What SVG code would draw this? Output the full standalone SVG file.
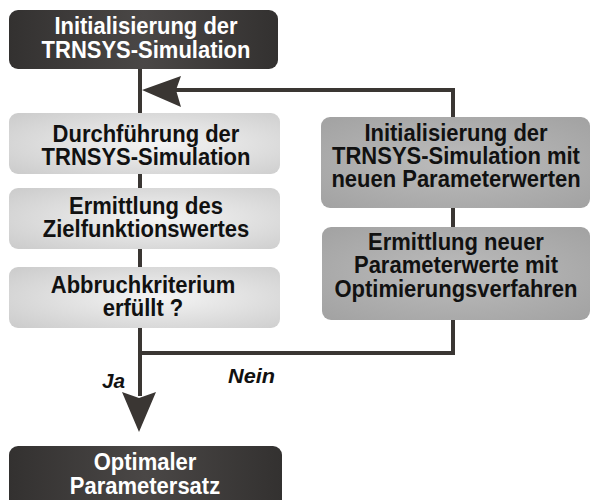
<svg xmlns="http://www.w3.org/2000/svg" width="590" height="500" viewBox="0 0 590 500">
<defs>
<linearGradient id="gDark" x1="0" y1="0" x2="1" y2="0">
<stop offset="0" stop-color="#333130"/><stop offset="0.5" stop-color="#4a4746"/><stop offset="1" stop-color="#333130"/>
</linearGradient>
<radialGradient id="gLight" cx="0.55" cy="0.5" r="0.7">
<stop offset="0" stop-color="#f4f4f4"/><stop offset="1" stop-color="#cdcdcd"/>
</radialGradient>
<radialGradient id="gMid" cx="0.5" cy="0.5" r="0.7">
<stop offset="0" stop-color="#bcbcbc"/><stop offset="1" stop-color="#a2a2a2"/>
</radialGradient>
<style>
.t{font-family:"Liberation Sans",Arial,sans-serif;font-weight:bold;font-size:22px;text-anchor:middle}
.w{fill:#ffffff}
.k{fill:#111111}
.lbl{font-family:"Liberation Sans",Arial,sans-serif;font-weight:bold;font-style:italic;font-size:20px;fill:#111111}
.ln{stroke:#3a3633;stroke-width:4;fill:none}
.ah{fill:#3a3633}
</style>
</defs>
<g id="connectors">
<path class="ln" d="M140,69 V113 M140,174 V188 M140,249 V267 M140,328 V396"/>
<path class="ln" d="M140,353 H453 V320 M453,227 V208 M453,117 V90 H175"/>
<path class="ah" d="M142,90 L181,76 L176,90 L181,107 Z"/>
<path class="ah" d="M139,432 L122,392 L139,398 L156,392 Z"/>
</g>
<g id="n_init">
<rect x="9" y="10" width="269" height="59" rx="9" fill="url(#gDark)"/>
<text class="t w" transform="matrix(1 0 0 1.08 146 34)">Initialisierung der</text>
<text class="t w" transform="matrix(1 0 0 1.08 146 58)">TRNSYS-Simulation</text>
</g>
<g id="n_durch">
<rect x="9" y="113" width="271" height="61" rx="9" fill="url(#gLight)"/>
<text class="t k" transform="matrix(1 0 0 1.08 146 142)">Durchführung der</text>
<text class="t k" transform="matrix(1 0 0 1.08 146 165)">TRNSYS-Simulation</text>
</g>
<g id="n_ziel">
<rect x="9" y="188" width="271" height="61" rx="9" fill="url(#gLight)"/>
<text class="t k" transform="matrix(1 0 0 1.08 146 214)">Ermittlung des</text>
<text class="t k" transform="matrix(1 0 0 1.08 146 237)">Zielfunktionswertes</text>
</g>
<g id="n_abbruch">
<rect x="9" y="267" width="271" height="61" rx="9" fill="url(#gLight)"/>
<text class="t k" transform="matrix(1 0 0 1.08 143 293)">Abbruchkriterium</text>
<text class="t k" transform="matrix(1 0 0 1.08 143 316)">erfüllt ?</text>
</g>
<g id="n_reinit">
<rect x="321" y="117" width="269" height="91" rx="9" fill="url(#gMid)"/>
<text class="t k" transform="matrix(1 0 0 1.08 456 141)">Initialisierung der</text>
<text class="t k" transform="matrix(1 0 0 1.08 456 164)">TRNSYS-Simulation mit</text>
<text class="t k" transform="matrix(1 0 0 1.08 456 187)">neuen Parameterwerten</text>
</g>
<g id="n_opt">
<rect x="322" y="227" width="268" height="93" rx="9" fill="url(#gMid)"/>
<text class="t k" transform="matrix(1 0 0 1.08 456 250)">Ermittlung neuer</text>
<text class="t k" transform="matrix(1 0 0 1.08 456 273)">Parameterwerte mit</text>
<text class="t k" transform="matrix(1 0 0 1.08 456 297)">Optimierungsverfahren</text>
</g>
<g id="n_result">
<rect x="9" y="446" width="273" height="64" rx="9" fill="url(#gDark)"/>
<text class="t w" transform="matrix(1 0 0 1.08 145 470)">Optimaler</text>
<text class="t w" transform="matrix(1 0 0 1.08 145 494)">Parametersatz</text>
</g>
<g id="labels">
<text class="lbl" x="102" y="388" textLength="23" lengthAdjust="spacingAndGlyphs">Ja</text>
<text class="lbl" x="228" y="383" textLength="47" lengthAdjust="spacingAndGlyphs">Nein</text>
</g>
</svg>
